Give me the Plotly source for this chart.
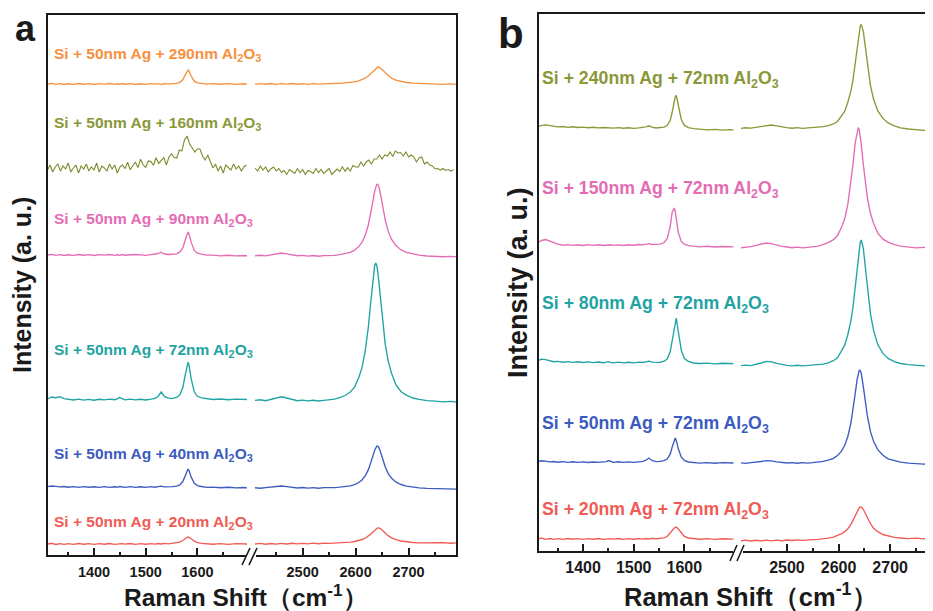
import plotly.graph_objects as go

# The page body keeps an 8px margin, so the figure is drawn 8px smaller and
# every layout position below is given in reference-picture pixels.
OFF = 8
W, H = 933 - OFF, 611 - OFF

# ---------------- data (intensity in arbitrary units, offset per spectrum) ----------------
XL = [1310, 1318, 1326, 1334, 1342, 1350, 1360, 1370, 1380, 1390,
      1400, 1410, 1420, 1430, 1440, 1446, 1450, 1454, 1460, 1470,
      1480, 1490, 1500, 1510, 1518, 1524, 1530, 1536, 1544, 1552,
      1560, 1566, 1572, 1576, 1580, 1582, 1584, 1588, 1594, 1600,
      1608, 1618, 1630, 1645, 1660, 1675, 1690, 1697]
XR = [2410, 2420, 2430, 2440, 2450, 2460, 2470, 2480, 2490, 2500,
      2510, 2520, 2530, 2540, 2550, 2560, 2570, 2580, 2590, 2598,
      2606, 2612, 2618, 2624, 2628, 2632, 2636, 2638, 2640, 2642,
      2644, 2648, 2652, 2656, 2662, 2668, 2676, 2686, 2696, 2708,
      2720, 2735, 2750, 2765, 2780, 2790]
XN_L = [1310, 1315, 1320, 1325, 1330, 1335, 1340, 1345, 1350, 1355,
        1360, 1365, 1370, 1375, 1380, 1385, 1390, 1395, 1400, 1405,
        1410, 1415, 1420, 1425, 1430, 1435, 1440, 1445, 1450, 1455,
        1460, 1465, 1470, 1475, 1480, 1485, 1490, 1495, 1500, 1505,
        1510, 1515, 1520, 1525, 1530, 1535, 1540, 1545, 1550, 1555,
        1560, 1565, 1570, 1575, 1580, 1585, 1590, 1595, 1600, 1605,
        1610, 1615, 1620, 1625, 1630, 1635, 1640, 1645, 1650, 1655,
        1660, 1665, 1670, 1675, 1680, 1685, 1690, 1695]
XN_R = [2410, 2415, 2420, 2425, 2430, 2435, 2440, 2445, 2450, 2455,
        2460, 2465, 2470, 2475, 2480, 2485, 2490, 2495, 2500, 2505,
        2510, 2515, 2520, 2525, 2530, 2535, 2540, 2545, 2550, 2555,
        2560, 2565, 2570, 2575, 2580, 2585, 2590, 2595, 2600, 2605,
        2610, 2615, 2620, 2625, 2630, 2635, 2640, 2645, 2650, 2655,
        2660, 2665, 2670, 2675, 2680, 2685, 2690, 2695, 2700, 2705,
        2710, 2715, 2720, 2725, 2730, 2735, 2740, 2745, 2750, 2755,
        2760, 2765, 2770, 2775, 2780, 2785]

# panel a : Si + 50nm Ag + x nm Al2O3
ORANGE_A_L = [472, 472.6, 471.7, 472.4, 471.5, 472.2, 471.6, 472.5, 471.8, 472.3,
              471.5, 472.4, 471.9, 472.5, 471.6, 472.2, 471.7, 472.5, 471.8, 472.3,
              471.5, 472.2, 471.6, 472.4, 471.9, 472.3, 471.6, 472.2, 472.1, 472.3,
              472.7, 473.7, 476.5, 480.7, 484.9, 486, 484.6, 479.7, 474.8, 473.1,
              472.6, 471.9, 472.3, 471.8, 472.3, 471.6, 472.2, 471.9]
ORANGE_A_R = [471.6, 472.3, 471.8, 472.5, 471.7, 472.4, 471.9, 472.5, 471.8, 472.3,
              471.7, 472.4, 471.9, 472.3, 472.2, 472.6, 472.7, 473.1, 473.5, 474.2,
              475.2, 476.3, 477.8, 480, 482, 484.4, 486.8, 487.7, 488.5, 489,
              489, 487.7, 485.6, 483.2, 480, 477.8, 475.9, 474.4, 473.5, 472.8,
              472.5, 471.9, 472.2, 471.6, 472.1, 471.7]
OLIVE_A_L = [386, 391, 384, 389, 392, 385, 390, 387, 393, 384,
             388, 391, 383, 390, 387, 392, 385, 389, 386, 393,
             384, 390, 388, 385, 392, 387, 391, 383, 389, 391,
             387.4, 393.8, 386.2, 390.6, 394, 388.4, 396.8, 391.2, 388.6, 395,
             394.4, 390.8, 398.2, 392.6, 395, 398.4, 391, 399, 402, 398.5,
             398, 406, 405, 416, 420, 412, 408, 404, 407, 407,
             400, 396, 401, 394, 388, 392, 385, 390, 383, 391,
             388, 386, 392, 387, 390, 385, 389, 391]
OLIVE_A_R = [388, 385, 390, 386, 389, 384, 387, 389, 385, 387.5,
             383.5, 385.5, 381.5, 386.5, 384.5, 382.5, 387.5, 383.5, 386.5, 381.5,
             385.5, 384.5, 382.5, 387.5, 383.5, 386.5, 382.5, 385.5, 387.5, 381.5,
             384.5, 387, 384.6, 389.2, 384.8, 388.4, 385, 390.5, 389, 389,
             394, 390, 394, 396, 392, 397, 397, 401, 397, 401,
             400, 404, 399.5, 405, 403, 403.5, 400, 404, 399, 401,
             399, 394, 398, 399, 392, 394, 391, 390, 387, 387.5,
             386, 387.5, 385.5, 386.5, 385, 386.5]
PINK_A_L = [301, 301.6, 300.7, 301.4, 300.5, 301.2, 300.6, 301.5, 300.8, 301.3,
            300.5, 301.4, 300.9, 301.5, 300.6, 301.2, 300.7, 301.5, 300.8, 301.3,
            301.5, 301.2, 300.6, 301.4, 301.6, 302.5, 303.8, 302, 301.5, 301.8,
            302.2, 303.8, 308.4, 315.3, 322.2, 324, 321.7, 313.6, 305.6, 302.8,
            301.9, 300.9, 300.8, 300.2, 300.7, 300.1, 300.5, 300.2]
PINK_A_R = [300.2, 300.7, 300.1, 301.2, 302.3, 303, 302.1, 301, 300.3, 300.6,
            299.9, 300.5, 299.8, 300.4, 300.4, 300.7, 301.3, 302.2, 303.6, 305.8,
            309.4, 313.7, 320.5, 331, 340.7, 352.9, 364.8, 369.3, 371.7, 371.7,
            369.3, 359.1, 346.8, 336, 324.1, 316.6, 310.4, 306.1, 303.6, 301.9,
            300.9, 300, 299.5, 299.3, 299.6, 299.1]
TEAL_A_L = [157, 159, 158.3, 159.4, 157.4, 156.6, 156, 156.8, 155.9, 156.6,
            155.8, 156.7, 156.1, 156.8, 156.3, 157.4, 158.6, 157.3, 156.2, 156.9,
            156.1, 156.7, 156, 156.8, 157.6, 159.5, 164, 159.6, 157.8, 157.6,
            158.6, 161.2, 168.7, 179.9, 190.9, 193.8, 190.1, 177.2, 164.2, 159.7,
            158.2, 157.3, 156.5, 157, 156.3, 156.9, 156.2, 156.5]
TEAL_A_R = [155.6, 156.2, 155.3, 156.5, 157.8, 159.2, 158, 156.4, 155.3, 155.8,
            155.1, 155.7, 155, 155.6, 156, 156.9, 158.3, 160.5, 164, 168.8,
            178.5, 188.1, 204.7, 228.7, 250.5, 274, 290.5, 293, 290.5, 283.9,
            274, 250.5, 228.7, 211.6, 193.8, 182.6, 171.4, 164.3, 160.9, 158,
            156.6, 155.3, 154.9, 154.2, 154.6, 153.9]
BLUE_A_L = [69.4, 70, 69.6, 69.1, 69.5, 68.8, 69.3, 68.7, 69.4, 68.8,
            69.2, 68.6, 69.3, 68.7, 69.2, 68.9, 69.5, 69, 68.6, 69.3,
            68.7, 69.2, 68.6, 69.3, 68.8, 69.4, 69.9, 69.2, 69, 69.3,
            69.8, 71.1, 74.7, 80.1, 85.6, 87, 85.2, 78.9, 72.6, 70.4,
            69.5, 68.6, 68.9, 68.3, 68.7, 68.1, 68.5, 68]
BLUE_A_R = [68.3, 67.8, 68.4, 68.8, 69.5, 70, 69.4, 68.6, 68, 68.5,
            67.9, 68.4, 67.8, 68.3, 68.2, 68.4, 68.8, 69.3, 70.1, 71.4,
            73.5, 76, 80, 86.1, 91.7, 98.9, 105.8, 108.4, 109.8, 109.8,
            108.4, 102.5, 95.3, 89, 82.1, 77.7, 74.1, 71.5, 69.9, 68.8,
            68.1, 67.6, 67.3, 66.9, 67.3, 66.8]
RED_A_L = [12, 12.7, 11.5, 12.3, 11.6, 12.4, 11.7, 12.5, 11.8, 12.4,
           11.6, 12.3, 11.8, 12.5, 11.7, 12.2, 11.8, 12.4, 11.9, 12.5,
           11.7, 12.3, 11.8, 12.4, 11.9, 12.5, 12, 12.6, 12.2, 12.6,
           12.8, 13.8, 15.5, 17.3, 18.7, 19, 18.6, 17.3, 14.8, 13.3,
           12.6, 12.2, 11.8, 12.4, 11.7, 12.3, 11.6, 12]
RED_A_R = [12, 12.6, 11.8, 12.5, 11.9, 12.6, 12, 12.7, 12.1, 12.6,
           12.2, 12.8, 12.3, 12.9, 12.7, 12.9, 13.1, 13.4, 13.9, 14.5,
           15.4, 16.5, 17.8, 19.8, 21.6, 23.8, 26, 26.8, 27.5, 28,
           28, 26.9, 25, 22.8, 20.1, 18.2, 16.3, 15, 14.1, 13.5,
           13.2, 13.4, 12.9, 13.3, 12.8, 13.1]

# panel b : Si + x nm Ag + 72nm Al2O3
OLIVE_B_L = [425.2, 426.6, 427.1, 426.3, 425.5, 425.1, 425.5, 424.7, 425.2, 424.5,
             424.9, 424.3, 424.7, 424.1, 424.5, 424.2, 424.6, 424.1, 423.9, 424.4,
             423.8, 424.2, 423.7, 424.1, 424.4, 425.2, 426.2, 424.8, 424, 424.2,
             424.8, 426.5, 431.7, 440, 449.9, 455.5, 456.5, 446.5, 432.5, 426.6,
             424.3, 423.3, 422.6, 422.2, 422.6, 421.9, 422.3, 421.8]
OLIVE_B_R = [423.6, 424.2, 423.9, 424.6, 425.3, 426.4, 427, 426.1, 424.9, 424.4,
             423.8, 424.3, 423.7, 424.1, 424.2, 424.6, 425.3, 426.4, 428, 430.5,
             436.2, 440.9, 449.7, 461.1, 472.3, 487.1, 504.6, 513.3, 520.7, 525.8,
             527.6, 520.7, 504.6, 487, 465.9, 452.5, 441, 433.6, 429.1, 426.1,
             424.1, 423, 422.1, 421.7, 421.3, 421]
PINK_B_L = [309, 311.5, 312.5, 311, 309, 307.8, 306.8, 307.4, 306.6, 307.2,
            306.5, 307.3, 306.7, 307.2, 306.5, 307, 306.6, 307.2, 306.7, 307.1,
            306.5, 307.2, 306.8, 307.5, 307.2, 307.8, 308.3, 307.5, 307.3, 307.8,
            309.5, 313.2, 325.5, 340, 344, 340.3, 333.7, 319.5, 310.4, 307.8,
            306.4, 305.6, 305.2, 305.7, 305, 305.5, 304.8, 305.1]
PINK_B_R = [304.2, 304.6, 305.3, 306.6, 308, 309, 308.4, 306.9, 305.6, 305,
            304.3, 304.8, 304.2, 304.7, 305.3, 305.9, 307.3, 309.3, 312.3, 316.5,
            324.9, 333.3, 347.7, 368.6, 387.5, 407.9, 422.3, 424.5, 422.3, 416.6,
            407.9, 387.5, 368.6, 353.7, 338.2, 328.5, 318.9, 312.9, 309.9, 307.3,
            305.8, 304.8, 304.2, 304.6, 304.1, 304.4]
TEAL_B_L = [191.2, 192.8, 192.4, 191, 190.3, 190.6, 189.8, 190.4, 189.6, 190.2,
            189.5, 190.1, 189.4, 190, 189.3, 189.8, 190.3, 189.6, 189.2, 189.8,
            189.1, 189.7, 189.2, 189.8, 189.5, 190.2, 190.8, 189.9, 189.4, 189.6,
            190.8, 193, 200.2, 211.5, 225, 232.6, 234, 220.5, 201.6, 193.5,
            190.7, 189, 188.5, 188.9, 188.2, 188.7, 188, 188.4]
TEAL_B_R = [186.3, 186.9, 186.4, 187.5, 189, 190.6, 190.2, 188.6, 187.3, 186.6,
            186.2, 186.7, 186.1, 186.6, 186.5, 187, 187.9, 189.2, 191.3, 194.2,
            201.1, 206.8, 217.5, 231.4, 245, 262.9, 284.2, 294.6, 303.7, 309.7,
            312, 303.7, 284.2, 262.9, 237.7, 221.4, 207.4, 198.6, 193.6, 190.4,
            188.5, 187.4, 186.6, 186.1, 186.4, 185.9]
BLUE_B_L = [90.4, 91.2, 90.9, 90.1, 90.5, 89.8, 90.3, 89.7, 90.2, 89.6,
            90.1, 89.5, 90, 89.6, 90.1, 90.4, 91.4, 90.5, 89.7, 90.2,
            89.6, 90.1, 89.7, 90.2, 90.6, 91.8, 94, 91.5, 90.4, 90.7,
            91.4, 93, 97.8, 105, 112.1, 114, 111.6, 103.2, 94.8, 91.5,
            90, 89.4, 88.9, 89.4, 88.8, 89.3, 88.7, 89]
BLUE_B_R = [89.2, 88.7, 89.3, 89.6, 90.5, 91.4, 91.2, 90.2, 89.4, 89,
            89.4, 88.8, 89.3, 88.9, 89.4, 89.9, 90.7, 91.8, 93.6, 96.4,
            101.1, 106.7, 115.5, 129, 141.5, 157.4, 172.7, 178.5, 181.6, 181.6,
            178.5, 165.3, 149.4, 135.5, 120.1, 110.4, 102.4, 96.8, 93.2, 91.2,
            89.8, 88.9, 88.5, 87.9, 88.3, 87.8]
RED_B_L = [13.2, 13.8, 12.7, 13.5, 12.6, 13.4, 12.7, 13.5, 12.8, 13.4,
           12.6, 13.3, 12.8, 13.5, 12.7, 13.2, 12.8, 13.4, 12.9, 13.5,
           12.7, 13.3, 12.8, 13.4, 12.9, 13.5, 13, 13.6, 13.3, 13.7,
           14.2, 15.5, 18.5, 21.5, 24, 24.8, 25, 23, 18.8, 15.6,
           14, 13.4, 12.8, 13.3, 12.6, 13.2, 12.5, 12.9]
RED_B_R = [11.2, 11.9, 11, 11.7, 11.1, 11.8, 11.2, 11.9, 11.3, 12,
           11.5, 12.1, 11.6, 12.3, 12.3, 12.6, 13.1, 13.8, 14.9, 16.3,
           18.3, 20.4, 23.3, 27.6, 31.5, 36.1, 40.8, 42.6, 44.1, 45,
           45, 42.7, 38.6, 34.4, 28, 23.8, 20.3, 17.5, 15.9, 14.6,
           14, 13.4, 13.8, 13.2, 13.7, 13.3]

LABELS_A = ["Si + 50nm Ag + 290nm Al<sub>2</sub>O<sub>3</sub>",
            "Si + 50nm Ag + 160nm Al<sub>2</sub>O<sub>3</sub>",
            "Si + 50nm Ag + 90nm Al<sub>2</sub>O<sub>3</sub>",
            "Si + 50nm Ag + 72nm Al<sub>2</sub>O<sub>3</sub>",
            "Si + 50nm Ag + 40nm Al<sub>2</sub>O<sub>3</sub>",
            "Si + 50nm Ag + 20nm Al<sub>2</sub>O<sub>3</sub>"]
LABELS_B = ["Si + 240nm Ag + 72nm Al<sub>2</sub>O<sub>3</sub>",
            "Si + 150nm Ag + 72nm Al<sub>2</sub>O<sub>3</sub>",
            "Si + 80nm Ag + 72nm Al<sub>2</sub>O<sub>3</sub>",
            "Si + 50nm Ag + 72nm Al<sub>2</sub>O<sub>3</sub>",
            "Si + 20nm Ag + 72nm Al<sub>2</sub>O<sub>3</sub>"]
TICKS = [1400, 1500, 1600, 2500, 2600, 2700]

# ---------------- styling ----------------
COL = {"orange": "#F5913E", "olive": "#8A9838", "olive_dark": "#7E8B2C", "pink": "#E46CB5",
       "teal": "#1FA3A3", "blue": "#3B5BC0", "red": "#EF5B55"}
FONT = "Liberation Sans, Arial, sans-serif"
INK = "#1a1a1a"


def fx(p):
    return (p - OFF) / W


def fy(p):
    return 1 - (p - OFF) / H


panel_a = [("orange", XL, ORANGE_A_L, XR, ORANGE_A_R),
           ("olive", XN_L, OLIVE_A_L, XN_R, OLIVE_A_R),
           ("pink", XL, PINK_A_L, XR, PINK_A_R),
           ("teal", XL, TEAL_A_L, XR, TEAL_A_R),
           ("blue", XL, BLUE_A_L, XR, BLUE_A_R),
           ("red", XL, RED_A_L, XR, RED_A_R)]
panel_b = [("olive", XL, OLIVE_B_L, XR, OLIVE_B_R),
           ("pink", XL, PINK_B_L, XR, PINK_B_R),
           ("teal", XL, TEAL_B_L, XR, TEAL_B_R),
           ("blue", XL, BLUE_B_L, XR, BLUE_B_R),
           ("red", XL, RED_B_L, XR, RED_B_R)]

fig = go.Figure()
for c, xl, yl, xr, yr in panel_a:
    col = COL["olive_dark"] if c == "olive" else COL[c]
    w = 1.1 if c == "olive" else 1.35
    fig.add_trace(go.Scatter(x=xl, y=yl, mode="lines", line=dict(color=col, width=w),
                             xaxis="x", yaxis="y", showlegend=False, hoverinfo="skip"))
    fig.add_trace(go.Scatter(x=xr, y=yr, mode="lines", line=dict(color=col, width=w),
                             xaxis="x2", yaxis="y", showlegend=False, hoverinfo="skip"))
for c, xl, yl, xr, yr in panel_b:
    fig.add_trace(go.Scatter(x=xl, y=yl, mode="lines", line=dict(color=COL[c], width=1.35),
                             xaxis="x3", yaxis="y2", showlegend=False, hoverinfo="skip"))
    fig.add_trace(go.Scatter(x=xr, y=yr, mode="lines", line=dict(color=COL[c], width=1.35),
                             xaxis="x4", yaxis="y2", showlegend=False, hoverinfo="skip"))


def xaxis_cfg(dom, rng, size, standoff, anchor):
    return dict(domain=dom, range=rng, anchor=anchor, showgrid=False, zeroline=False,
                showline=False, ticks="inside", ticklen=8, tickwidth=1.6, tickcolor=INK,
                tickmode="array", tickvals=TICKS, ticktext=[str(t) for t in TICKS],
                minor=dict(ticks="inside", ticklen=4, tickwidth=1.6, tickcolor=INK,
                           tickmode="linear", tick0=1350, dtick=50, showgrid=False),
                tickfont=dict(family=FONT, size=size, color=INK, weight="bold"),
                ticklabelstandoff=standoff, fixedrange=True)


fig.update_layout(
    width=W, height=H, autosize=False,
    margin=dict(l=0, r=0, t=0, b=0),
    paper_bgcolor="white", plot_bgcolor="rgba(0,0,0,0)",
    xaxis=xaxis_cfg([fx(47), fx(247)], [1309, 1696], 14.5, 5, "y"),
    xaxis2=xaxis_cfg([fx(255), fx(457)], [2410, 2791.5], 14.5, 5, "y"),
    xaxis3=xaxis_cfg([fx(538), fx(734)], [1311, 1698], 16, 4, "y2"),
    xaxis4=xaxis_cfg([fx(741), 1.0], [2411, 2783], 16, 4, "y2"),
    yaxis=dict(domain=[fy(556), fy(14)], range=[0, 542], visible=False, fixedrange=True,
               anchor="x"),
    yaxis2=dict(domain=[fy(552), fy(13)], range=[0, 539], visible=False, fixedrange=True,
                anchor="x3"),
)


# frame with axis break marks
def seg(x0, y0, x1, y1, w=2):
    return dict(type="line", xref="paper", yref="paper", x0=fx(x0), y0=fy(y0),
                x1=fx(x1), y1=fy(y1), line=dict(color=INK, width=w))


shapes = [seg(46, 14, 458, 14), seg(47, 13, 47, 557), seg(457, 13, 457, 557),
          seg(46, 556, 246, 556), seg(256, 556, 458, 556),
          seg(242, 565, 250, 548, 1.6), seg(249, 565, 257, 548, 1.6),
          seg(537, 13, 933, 13), seg(538, 12, 538, 553),
          seg(537, 552, 733, 552), seg(743, 552, 933, 552),
          seg(730, 561, 737, 545, 1.6), seg(737, 561, 744, 545, 1.6)]
fig.update_layout(shapes=shapes)

ann = []


def text(x, y, s, size, color=INK, angle=0, xanchor="left"):
    ann.append(dict(x=fx(x), y=fy(y), xref="paper", yref="paper", text=s, showarrow=False,
                    xanchor=xanchor, yanchor="middle", textangle=angle, borderpad=0,
                    font=dict(family=FONT, size=size, color=color, weight="bold")))


for (c, *_), lab, yy in zip(panel_a, LABELS_A, [55, 123, 219, 350, 454, 522]):
    text(53, yy, lab, 15.5, COL[c])
for (c, *_), lab, yy in zip(panel_b, LABELS_B, [79, 189, 304, 424, 510]):
    text(541, yy, lab, 17.7, COL[c])

text(25, 29, "a", 36, xanchor="center")
text(511, 33, "b", 42, xanchor="center")
text(22, 285, "Intensity (a. u.)", 25, angle=-90, xanchor="center")
text(518, 283, "Intensity (a. u.)", 27, angle=-90, xanchor="center")
text(246, 595, "Raman Shift（cm<sup>-1</sup>）", 24.5, xanchor="center")
text(751, 595, "Raman Shift（cm<sup>-1</sup>）", 25.5, xanchor="center")
fig.update_layout(annotations=ann)

fig.write_html("out.html")
